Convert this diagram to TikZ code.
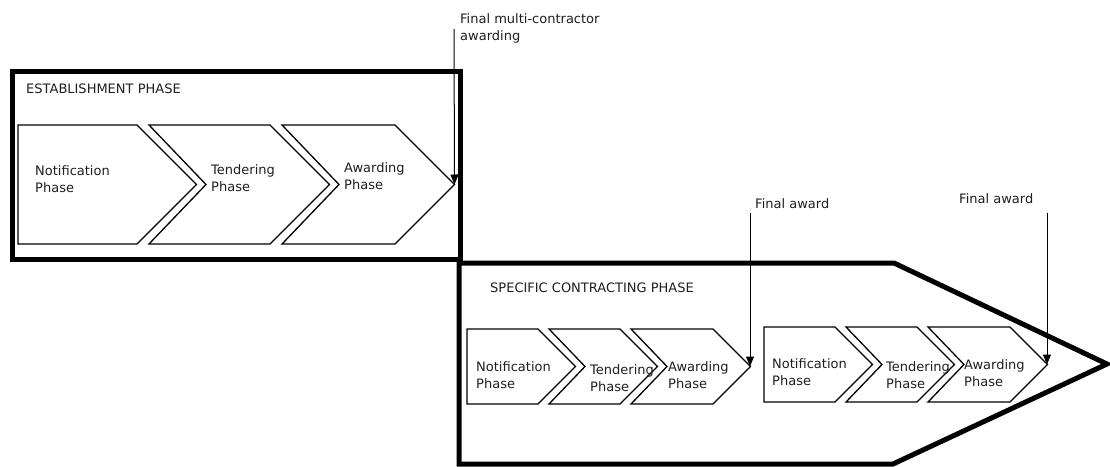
\documentclass[tikz,border=0pt]{standalone}
\usepackage{fontspec}
\setmainfont{DejaVu Sans}
\usetikzlibrary{arrows.meta}

% chevron: left x, shoulder x, top y, bottom y, notch depth, name of tip coordinate
\newcommand{\chevron}[6]{%
  \draw[chevline] (#1,#3) -- (#2,#3)
    -- ({#2+(#4-#3)/2},{(#3+#4)/2}) coordinate (#6)
    -- (#2,#4) -- (#1,#4) -- ({#1+#5},{(#3+#4)/2}) -- cycle;}

\tikzset{
  chevline/.style={line width=1.3pt, line join=miter},
  phasebox/.style={line width=5pt, line join=miter},
  lbl/.style={inner sep=0pt, font=\fontsize{13}{16.5}\selectfont, align=left, text=black!88},
  award/.style={line width=1pt, -{Triangle[length=10pt,width=8pt]}},
}

\begin{document}
\begin{tikzpicture}[x=1pt,y=-1pt]
  \fill[white] (0,0) rectangle (1110,466);
  \useasboundingbox (0,0) rectangle (1110,466);

  % establishment phase frame
  \draw[phasebox] (12,71) rectangle (460,259);
  \node[lbl, anchor=west] (estTitle) at (26,89) {ESTABLISHMENT PHASE};

  \chevron{18}{137}{125}{244}{0}{e1tip}
  \chevron{149}{270}{125}{244}{57}{e2tip}
  \chevron{282}{395}{125}{244}{57}{e3tip}
  \node[lbl, anchor=north west] (e1) at (35,165.6) {Notification\\Phase};
  \node[lbl, anchor=north west] (e2) at (211,164.6) {Tendering\\Phase};
  \node[lbl, anchor=north west] (e3) at (344,162.6) {Awarding\\Phase};

  % specific contracting phase arrow
  \draw[phasebox] (459,263) -- (894,263) -- (1107,364) -- (893,464) -- (459,464) -- cycle;
  \node[lbl, anchor=west] (scTitle) at (490,288) {SPECIFIC CONTRACTING PHASE};

  \chevron{467}{538}{329}{404}{0}{a1tip}
  \chevron{549}{620}{329}{404}{36}{a2tip}
  \chevron{631}{713}{329}{404}{36}{a3tip}
  \node[lbl, anchor=north west] (a1) at (476,361.6) {Notification\\Phase};
  \node[lbl, anchor=north west] (a2) at (590,364.6) {Tendering\\Phase};
  \node[lbl, anchor=north west] (a3) at (668,361.6) {Awarding\\Phase};

  \chevron{764}{835}{327}{402}{0}{b1tip}
  \chevron{846}{917}{327}{402}{36}{b2tip}
  \chevron{928}{1010}{327}{402}{36}{b3tip}
  \node[lbl, anchor=north west] (b1) at (772,358.6) {Notification\\Phase};
  \node[lbl, anchor=north west] (b2) at (886,361.6) {Tendering\\Phase};
  \node[lbl, anchor=north west] (b3) at (964,359.6) {Awarding\\Phase};

  % award markers
  \node[lbl, anchor=north west] (multiLbl) at (460,13.6) {Final multi-contractor\\awarding};
  \coordinate (multiTop) at (454,29);
  \draw[award] (multiTop) -- (e3tip);

  \node[lbl, anchor=west] (awardLblA) at (755,204) {Final award};
  \coordinate (awardTopA) at (750,213);
  \draw[award] (awardTopA) -- (awardTopA |- a3tip);

  \node[lbl, anchor=west] (awardLblB) at (959,199) {Final award};
  \coordinate (awardTopB) at (1047,213);
  \draw[award] (awardTopB) -- (awardTopB |- b3tip);
\end{tikzpicture}
\end{document}
